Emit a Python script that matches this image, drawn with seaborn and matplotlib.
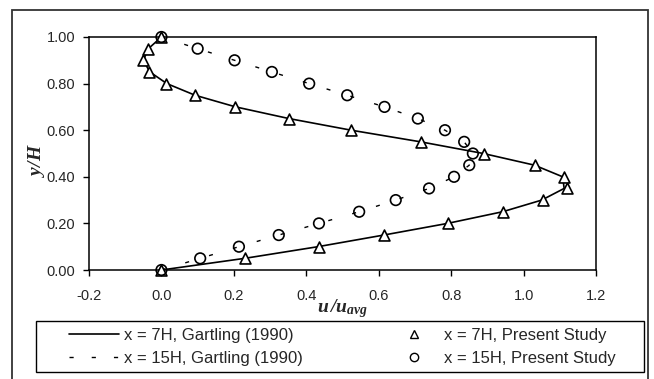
import matplotlib
matplotlib.use("Agg")
import matplotlib.pyplot as plt
import seaborn as sns
from matplotlib.lines import Line2D
from matplotlib.patches import Rectangle

# y/H stations (shared by all series)
y_pos = [0.00, 0.05, 0.10, 0.15, 0.20, 0.25, 0.30, 0.35, 0.40, 0.45, 0.50,
         0.55, 0.60, 0.65, 0.70, 0.75, 0.80, 0.85, 0.90, 0.95, 1.00]

# Gartling (1990) profiles
gartling_7h = [0.000, 0.230, 0.432, 0.614, 0.790, 0.942, 1.050, 1.112, 1.108, 1.030, 0.889,
               0.716, 0.524, 0.352, 0.205, 0.093, 0.015, -0.032, -0.050, -0.036, 0.000]
gartling_15h = [0.000, 0.107, 0.214, 0.324, 0.435, 0.546, 0.647, 0.739, 0.808, 0.850, 0.860,
                0.836, 0.783, 0.708, 0.616, 0.513, 0.408, 0.305, 0.202, 0.100, 0.000]

# Present study
present_7h = [0.000, 0.232, 0.435, 0.615, 0.791, 0.944, 1.053, 1.119, 1.113, 1.032, 0.891,
              0.717, 0.524, 0.352, 0.204, 0.093, 0.014, -0.033, -0.052, -0.038, 0.000]
present_15h = [0.000, 0.107, 0.214, 0.324, 0.435, 0.546, 0.647, 0.739, 0.808, 0.850, 0.860,
               0.836, 0.783, 0.708, 0.616, 0.513, 0.408, 0.305, 0.202, 0.100, 0.000]

x_ticks = [-0.2, 0.0, 0.2, 0.4, 0.6, 0.8, 1.0, 1.2]
y_ticks = [0.0, 0.2, 0.4, 0.6, 0.8, 1.0]

labels = ["x = 7H, Gartling (1990)", "x = 15H, Gartling (1990)",
          "x = 7H, Present Study", "x = 15H, Present Study"]

sns.set_style("white")
plt.rcParams["font.family"] = ["Liberation Sans", "DejaVu Sans"]
plt.rcParams["mathtext.fontset"] = "custom"
plt.rcParams["mathtext.rm"] = "Liberation Serif"
plt.rcParams["mathtext.it"] = "Liberation Serif:italic"
plt.rcParams["mathtext.bf"] = "Liberation Serif:italic:bold"

fig = plt.figure(figsize=(6.54, 3.79), dpi=100)
ax = fig.add_axes([89 / 654, 1 - 270 / 379, 507 / 654, 233 / 379])

dash = (2.9, 15.0)
sns.lineplot(x=gartling_7h, y=y_pos, sort=False, estimator=None, ax=ax,
             color="black", linewidth=1.2)
sns.lineplot(x=gartling_15h, y=y_pos, sort=False, estimator=None, ax=ax,
             color="black", linewidth=1.0, dashes=False)
ax.lines[-1].set_dashes(dash)

sns.scatterplot(x=present_7h, y=y_pos, ax=ax, marker="^", s=62, clip_on=False,
                facecolor="white", edgecolor="black", linewidth=1.2, zorder=4)
sns.scatterplot(x=present_15h, y=y_pos, ax=ax, marker="o", s=58, clip_on=False,
                facecolor="none", edgecolor="black", linewidth=1.2, zorder=5)

ax.set_xlim(-0.2, 1.2)
ax.set_ylim(0, 1.0)
ax.set_xticks(x_ticks)
ax.set_yticks(y_ticks)
ax.set_xticklabels([f"{v:.1f}" for v in x_ticks])
ax.set_yticklabels([f"{v:.2f}" for v in y_ticks])
ax.tick_params(axis="x", direction="out", length=4, width=1, pad=10,
               labelsize=10.5, bottom=True, color="black")
ax.tick_params(axis="y", direction="out", length=4, width=1, pad=6,
               labelsize=10.5, left=True, color="black")
for s in ax.spines.values():
    s.set_color("black")
    s.set_linewidth(1.1)

ax.set_xlabel(r"$\mathbf{u\,/u_{avg}}$", fontsize=14, va="top")
ax.xaxis.set_label_coords(0.5, -0.115)
ax.set_ylabel(r"$\mathbf{y/H}$", fontsize=14, va="center")
ax.yaxis.set_label_coords(-0.104, 0.47)

# outer chart border
fig.patches.append(Rectangle((12 / 654, -0.1), 636 / 654, 1.1 - 10 / 379,
                             transform=fig.transFigure, fill=False,
                             edgecolor="#333333", linewidth=1.3))
# legend box
fig.patches.append(Rectangle((36 / 654, 1 - 372 / 379), 608 / 654, 51 / 379,
                             transform=fig.transFigure, fill=False,
                             edgecolor="black", linewidth=1.0))

handles = [
    Line2D([], [], color="black", linewidth=1.2),
    Line2D([], [], color="black", linewidth=1.0, dashes=(3.0, 13.0)),
    Line2D([], [], color="black", marker="^", linestyle="none", markersize=6,
           markerfacecolor="white", markeredgewidth=1.0),
    Line2D([], [], color="black", marker="o", linestyle="none", markersize=6,
           markerfacecolor="white", markeredgewidth=1.0),
]
fig.legend(handles, labels, ncol=2, loc="center left",
           bbox_to_anchor=(57 / 654, 1 - 347 / 379), frameon=False,
           fontsize=12, handlelength=3.0, handletextpad=0.3,
           columnspacing=5.2, labelspacing=0.45, borderpad=0.2)

fig.savefig("out.png", dpi=100)
